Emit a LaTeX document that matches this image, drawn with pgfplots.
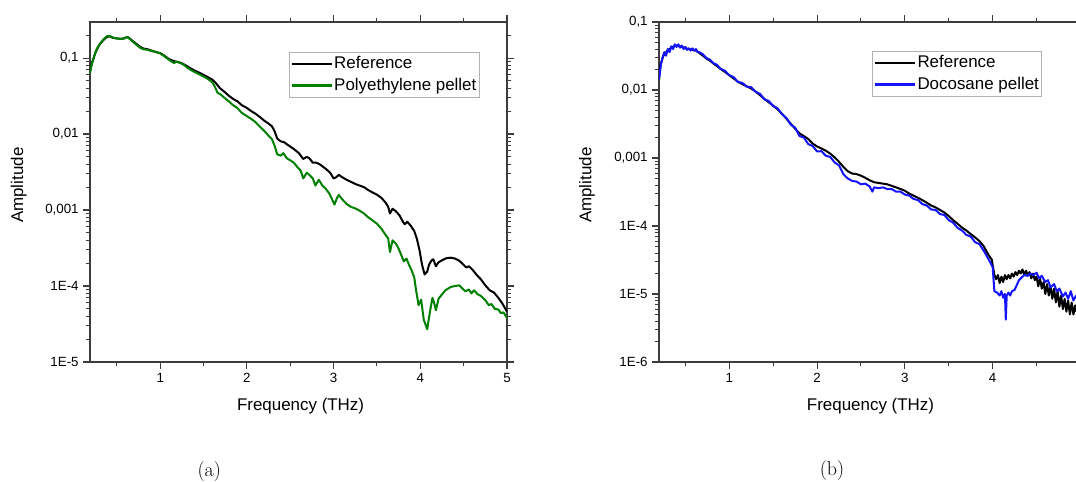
\documentclass[border=0pt]{standalone}
\usepackage{fontspec}
\setsansfont{Liberation Sans}
\usepackage{pgfplots}
\pgfplotsset{compat=1.18}
\definecolor{pegreen}{RGB}{0,128,0}
\definecolor{dblue}{RGB}{20,20,255}
\definecolor{axgray}{RGB}{60,60,60}
\pgfplotsset{
 myaxis/.style={
  scale only axis,
  font=\sffamily,
  /pgf/number format/assume math mode=true,
  tick align=outside,
  major tick length=5pt,
  minor tick length=3.2pt,
  axis line style={axgray, line width=0.9pt},
  tick style={axgray, line width=0.8pt},
  minor tick style={axgray, line width=0.8pt},
  tick label style={font=\sffamily\fontsize{10}{12}\selectfont, black},
  xtick={1,2,3,4,5},
  minor xtick={0.5,1.5,2.5,3.5,4.5},
  xlabel={Frequency (THz)},
  ylabel={Amplitude},
  every axis x label/.style={at={(axis description cs:0.505,-0.129)}, anchor=center, font=\sffamily\fontsize{12.7}{15}\selectfont},
  every axis y label/.style={at={(axis description cs:-0.171,0.52)}, rotate=90, anchor=center, font=\sffamily\fontsize{12.7}{15}\selectfont},
  legend style={font=\sffamily\fontsize{12.7}{15}\selectfont, draw=gray!60, line width=0.6pt,
     inner xsep=1pt, inner ysep=1.5pt, anchor=north west, row sep=2pt,
     nodes={inner sep=1pt, text height=9.5pt, text depth=2.8pt}},
  legend cell align=left,
  legend image code/.code={\draw[#1, line width=1.7pt] (0pt,0pt) -- (30pt,0pt);},
  every axis plot/.append style={line width=1.5pt, line join=round},
 }
}
\begin{document}
\begin{tikzpicture}
\useasboundingbox (0,0) rectangle (807pt,361.5pt);
\begin{semilogyaxis}[myaxis,
  at={(67.5pt,90pt)}, anchor=south west,
  width=312.75pt, height=255pt,
  xmin=0.19, xmax=5, ymin=1e-5, ymax=0.298,
  ytick={1e-5,1e-4,1e-3,1e-2,1e-1},
  yticklabels={1E-5,1E-4,{0,001},{0,01},{0,1}},
  minor ytick={2e-5,3e-5,4e-5,5e-5,6e-5,7e-5,8e-5,9e-5,2e-4,3e-4,4e-4,5e-4,6e-4,7e-4,8e-4,9e-4,2e-3,3e-3,4e-3,5e-3,6e-3,7e-3,8e-3,9e-3,2e-2,3e-2,4e-2,5e-2,6e-2,7e-2,8e-2,9e-2,0.2},
  legend style={at={(0.477,0.912)}},
]
\addplot[black] coordinates {
(0.19,0.068)(0.21,0.085)(0.23,0.098)(0.25,0.115)(0.27,0.130)(0.30,0.150)(0.33,0.165)(0.36,0.180)(0.39,0.190)(0.42,0.193)(0.45,0.185)(0.50,0.181)(0.55,0.179)(0.59,0.182)(0.62,0.190)(0.65,0.180)(0.69,0.165)(0.73,0.152)(0.77,0.140)(0.81,0.133)(0.85,0.131)(0.89,0.126)(0.94,0.121)(1.00,0.116)(1.05,0.107)(1.10,0.097)(1.13,0.094)(1.16,0.091)(1.19,0.089)(1.23,0.087)(1.27,0.083)(1.31,0.078)(1.35,0.073)(1.39,0.069)(1.44,0.065)(1.50,0.060)(1.55,0.056)(1.60,0.052)(1.64,0.047)(1.69,0.040)(1.74,0.036)(1.79,0.032)(1.84,0.029)(1.89,0.027)(1.94,0.024)(2.00,0.022)(2.05,0.020)(2.10,0.0185)(2.15,0.0167)(2.20,0.0150)(2.25,0.0137)(2.29,0.0126)(2.32,0.0108)(2.35,0.0087)(2.39,0.0080)(2.43,0.0078)(2.47,0.0072)(2.52,0.0066)(2.56,0.0061)(2.60,0.0056)(2.65,0.0047)(2.69,0.0050)(2.72,0.0048)(2.76,0.0042)(2.80,0.0042)(2.84,0.0040)(2.88,0.0037)(2.92,0.0034)(2.96,0.0031)(3.00,0.0026)(3.03,0.0027)(3.06,0.0029)(3.10,0.0027)(3.15,0.0025)(3.20,0.00235)(3.25,0.0022)(3.30,0.0021)(3.35,0.0020)(3.40,0.00183)(3.45,0.00170)(3.50,0.00159)(3.55,0.00145)(3.60,0.00125)(3.63,0.00110)(3.65,0.00090)(3.68,0.00104)(3.72,0.00096)(3.76,0.00085)(3.80,0.00070)(3.82,0.00065)(3.85,0.00070)(3.89,0.00062)(3.93,0.00053)(3.96,0.00042)(3.99,0.00030)(4.02,0.00019)(4.05,0.000142)(4.08,0.000155)(4.10,0.000190)(4.13,0.000218)(4.15,0.000225)(4.18,0.000182)(4.21,0.000205)(4.25,0.000218)(4.30,0.000232)(4.35,0.000236)(4.40,0.000230)(4.45,0.000215)(4.50,0.000190)(4.53,0.000175)(4.56,0.000182)(4.60,0.000165)(4.65,0.000140)(4.70,0.000122)(4.75,0.000102)(4.80,0.000088)(4.85,0.000082)(4.90,0.000070)(4.95,0.000058)(5.00,0.000046)
};
\addlegendentry{Reference}
\addplot[pegreen] coordinates {
(0.19,0.063)(0.21,0.082)(0.23,0.098)(0.25,0.117)(0.27,0.133)(0.30,0.152)(0.33,0.167)(0.36,0.183)(0.39,0.195)(0.42,0.196)(0.45,0.186)(0.50,0.181)(0.55,0.178)(0.59,0.183)(0.62,0.190)(0.65,0.178)(0.69,0.162)(0.73,0.148)(0.77,0.136)(0.81,0.130)(0.85,0.129)(0.89,0.124)(0.94,0.121)(1.00,0.115)(1.05,0.105)(1.10,0.095)(1.13,0.090)(1.16,0.086)(1.19,0.090)(1.23,0.086)(1.27,0.082)(1.31,0.075)(1.35,0.070)(1.39,0.066)(1.44,0.062)(1.50,0.057)(1.55,0.053)(1.60,0.048)(1.63,0.042)(1.66,0.035)(1.70,0.033)(1.74,0.030)(1.79,0.027)(1.84,0.024)(1.89,0.022)(1.94,0.019)(2.00,0.0172)(2.05,0.0158)(2.10,0.0143)(2.15,0.0125)(2.20,0.0110)(2.25,0.0095)(2.29,0.0085)(2.32,0.0070)(2.35,0.0054)(2.39,0.0052)(2.42,0.0056)(2.46,0.0048)(2.50,0.0045)(2.54,0.0042)(2.58,0.0037)(2.62,0.0033)(2.65,0.0026)(2.69,0.0031)(2.72,0.0029)(2.76,0.0026)(2.79,0.0021)(2.83,0.0025)(2.87,0.0021)(2.91,0.0019)(2.95,0.00165)(2.98,0.00140)(3.01,0.00118)(3.04,0.00145)(3.06,0.00158)(3.10,0.00138)(3.15,0.00120)(3.20,0.00110)(3.25,0.00105)(3.30,0.00098)(3.35,0.00090)(3.40,0.00080)(3.45,0.00073)(3.50,0.00066)(3.55,0.00057)(3.60,0.00047)(3.63,0.00042)(3.65,0.00028)(3.68,0.00040)(3.72,0.00036)(3.75,0.00031)(3.79,0.00024)(3.81,0.00021)(3.84,0.00023)(3.87,0.00019)(3.90,0.000160)(3.93,0.000130)(3.95,0.000090)(3.98,0.000056)(4.01,0.000066)(4.04,0.000036)(4.08,0.000027)(4.11,0.000045)(4.14,0.000070)(4.16,0.000060)(4.18,0.000048)(4.21,0.000068)(4.24,0.000075)(4.29,0.000088)(4.35,0.000097)(4.40,0.000100)(4.45,0.000102)(4.48,0.000094)(4.52,0.000085)(4.56,0.000090)(4.59,0.000080)(4.62,0.000088)(4.66,0.000078)(4.70,0.000074)(4.75,0.000065)(4.79,0.000056)(4.82,0.000058)(4.86,0.000050)(4.90,0.000049)(4.93,0.000044)(4.96,0.000045)(5.00,0.000038)
};
\addlegendentry{Polyethylene pellet}
\end{semilogyaxis}

\begin{semilogyaxis}[myaxis,
  at={(494.25pt,90pt)}, anchor=south west,
  width=314.1pt, height=255pt,
  xmin=0.2, xmax=4.97, ymin=1e-6, ymax=0.1,
  ytick={1e-6,1e-5,1e-4,1e-3,1e-2,1e-1},
  yticklabels={1E-6,1E-5,1E-4,{0,001},{0,01},{0,1}},
  minor ytick={2e-6,3e-6,4e-6,5e-6,6e-6,7e-6,8e-6,9e-6,2e-5,3e-5,4e-5,5e-5,6e-5,7e-5,8e-5,9e-5,2e-4,3e-4,4e-4,5e-4,6e-4,7e-4,8e-4,9e-4,2e-3,3e-3,4e-3,5e-3,6e-3,7e-3,8e-3,9e-3,2e-2,3e-2,4e-2,5e-2,6e-2,7e-2,8e-2,9e-2},
  every axis y label/.style={at={(axis description cs:-0.172,0.52)}, rotate=90, anchor=center, font=\sffamily\fontsize{12.7}{15}\selectfont},
  legend style={at={(0.509,0.915)}},
]
\addplot[black] coordinates {
(0.20,0.0147)(0.22,0.024)(0.25,0.032)(0.28,0.036)(0.31,0.039)(0.34,0.042)(0.37,0.044)(0.40,0.045)(0.43,0.044)(0.46,0.043)(0.50,0.041)(0.54,0.040)(0.58,0.039)(0.62,0.038)(0.66,0.035)(0.70,0.032)(0.74,0.029)(0.78,0.027)(0.82,0.0245)(0.86,0.0225)(0.90,0.0205)(0.95,0.0185)(1.00,0.0165)(1.05,0.0148)(1.10,0.0132)(1.15,0.0122)(1.20,0.0113)(1.25,0.0105)(1.30,0.0095)(1.35,0.0084)(1.40,0.0074)(1.45,0.0066)(1.50,0.0059)(1.55,0.0052)(1.60,0.0045)(1.65,0.0038)(1.70,0.0032)(1.75,0.0027)(1.80,0.0023)(1.85,0.0021)(1.90,0.0019)(1.95,0.00163)(2.00,0.00148)(2.05,0.00138)(2.10,0.00128)(2.15,0.00116)(2.20,0.00102)(2.25,0.00088)(2.30,0.00074)(2.35,0.00064)(2.40,0.00059)(2.45,0.00058)(2.50,0.00055)(2.55,0.00051)(2.60,0.00047)(2.65,0.00044)(2.70,0.00043)(2.75,0.00042)(2.80,0.00041)(2.85,0.00039)(2.90,0.00037)(2.95,0.00035)(3.00,0.00033)(3.05,0.00030)(3.10,0.00028)(3.15,0.00026)(3.20,0.00024)(3.25,0.00022)(3.30,0.00020)(3.35,0.000188)(3.40,0.000172)(3.45,0.000158)(3.50,0.000140)(3.55,0.000122)(3.60,0.000108)(3.65,0.000095)(3.70,0.000086)(3.75,0.000076)(3.80,0.000068)(3.85,0.000060)(3.90,0.000050)(3.95,0.000038)(3.99,0.000032)(4.02,0.000019)(4.04,0.0000165)(4.06,0.000019)(4.08,0.0000145)(4.10,0.000018)(4.12,0.000015)(4.14,0.000019)(4.16,0.0000165)(4.18,0.000019)(4.20,0.000017)(4.22,0.000020)(4.24,0.000018)(4.26,0.000021)(4.28,0.000019)(4.30,0.000022)(4.32,0.000020)(4.34,0.000023)(4.36,0.000019)(4.38,0.000022)(4.40,0.000019)(4.42,0.000021)(4.44,0.000017)(4.46,0.000020)(4.48,0.000016)(4.50,0.000018)(4.52,0.000013)(4.54,0.000017)(4.56,0.000012)(4.58,0.000015)(4.60,0.000010)(4.62,0.000014)(4.64,0.0000095)(4.66,0.000013)(4.68,0.0000085)(4.70,0.000012)(4.72,0.0000075)(4.74,0.000011)(4.76,0.0000065)(4.78,0.0000095)(4.80,0.000006)(4.82,0.0000085)(4.84,0.0000055)(4.86,0.000008)(4.88,0.000005)(4.90,0.0000075)(4.92,0.000005)(4.94,0.0000068)(4.95,0.0000055)
};
\addlegendentry{Reference}
\addplot[dblue] coordinates {
(0.20,0.014)(0.22,0.023)(0.24,0.030)(0.26,0.036)(0.28,0.032)(0.30,0.040)(0.32,0.036)(0.34,0.044)(0.36,0.040)(0.38,0.047)(0.40,0.043)(0.42,0.047)(0.44,0.042)(0.46,0.045)(0.48,0.040)(0.50,0.043)(0.52,0.039)(0.54,0.041)(0.56,0.038)(0.58,0.041)(0.60,0.038)(0.62,0.040)(0.64,0.036)(0.66,0.036)(0.70,0.0335)(0.74,0.0295)(0.78,0.0280)(0.82,0.0248)(0.86,0.0235)(0.90,0.0205)(0.95,0.0192)(1.00,0.0165)(1.05,0.0155)(1.10,0.0131)(1.15,0.0127)(1.20,0.0112)(1.25,0.0110)(1.30,0.0094)(1.35,0.0088)(1.40,0.0073)(1.45,0.0069)(1.50,0.0058)(1.55,0.0054)(1.60,0.0044)(1.65,0.0039)(1.70,0.0031)(1.75,0.0028)(1.80,0.0021)(1.85,0.0020)(1.90,0.0016)(1.95,0.00150)(2.00,0.00125)(2.05,0.00126)(2.10,0.00108)(2.15,0.00104)(2.20,0.00086)(2.25,0.00078)(2.30,0.00058)(2.35,0.00050)(2.40,0.00046)(2.45,0.00045)(2.50,0.00041)(2.55,0.00042)(2.60,0.00038)(2.63,0.00032)(2.65,0.00037)(2.70,0.00036)(2.75,0.00037)(2.80,0.00035)(2.85,0.00035)(2.90,0.00032)(2.95,0.00032)(3.00,0.00029)(3.05,0.00028)(3.10,0.00025)(3.15,0.00024)(3.20,0.00021)(3.25,0.00020)(3.30,0.000175)(3.35,0.000172)(3.40,0.000150)(3.45,0.000145)(3.50,0.000122)(3.55,0.000112)(3.60,0.000094)(3.65,0.000086)(3.70,0.000074)(3.75,0.000070)(3.80,0.000058)(3.85,0.000054)(3.90,0.000043)(3.95,0.000033)(4.00,0.000025)(4.02,0.000011)(4.05,0.0000105)(4.08,0.0000095)(4.10,0.000011)(4.12,0.0000088)(4.14,0.000010)(4.15,0.0000042)(4.16,0.0000095)(4.18,0.0000105)(4.20,0.0000095)(4.22,0.000011)(4.25,0.0000115)(4.28,0.000014)(4.30,0.000016)(4.33,0.0000175)(4.36,0.000019)(4.40,0.0000185)(4.43,0.000020)(4.46,0.000019)(4.50,0.0000205)(4.53,0.000017)(4.56,0.0000185)(4.60,0.000015)(4.63,0.000016)(4.66,0.0000125)(4.70,0.000014)(4.73,0.000011)(4.76,0.000012)(4.80,0.0000092)(4.83,0.0000105)(4.86,0.0000085)(4.89,0.000011)(4.92,0.000008)(4.95,0.0000095)
};
\addlegendentry{Docosane pellet}
\end{semilogyaxis}
\node[font=\fontsize{15}{17}\selectfont] at (157pt,8pt) {(a)};
\node[font=\fontsize{15}{17}\selectfont] at (624pt,8.5pt) {(b)};
\end{tikzpicture}
\end{document}
